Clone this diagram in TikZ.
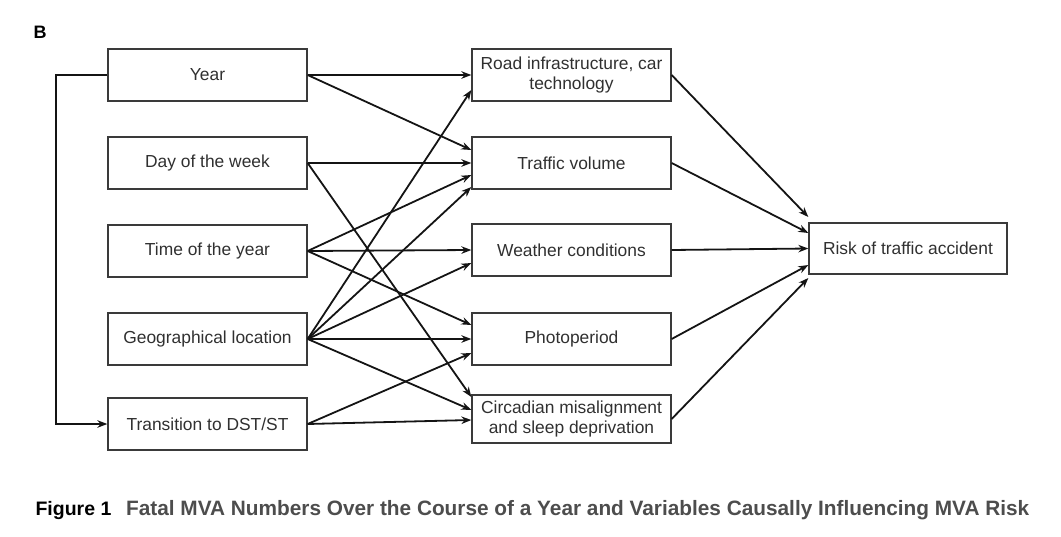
\documentclass[tikz,border=0pt]{standalone}
\usepackage{fontspec}
\setmainfont{Liberation Sans}
\usepackage{xcolor}
\definecolor{ink}{HTML}{141414}
\definecolor{ink2}{HTML}{3A3A3A}
\definecolor{txt}{HTML}{303030}
\definecolor{capgray}{HTML}{4D4D4D}
\usetikzlibrary{positioning, arrows.meta}

\begin{document}
\begin{tikzpicture}[x=1pt, y=1pt, node distance=34.7pt and 163.7pt,
   every node/.style={font=\fontsize{17.4}{20.5}\selectfont, text=txt},
   box/.style={draw=ink2, line width=1.3pt, align=center, minimum width=199pt, minimum height=52pt, inner sep=2pt},
   arr/.style={-{Stealth[length=10pt, width=7.5pt]}, line width=1.8pt, color=ink}]
  \useasboundingbox (0,0) rectangle (1061,-536);
  \node[font=\fontsize{18}{20}\selectfont\bfseries, text=black] (lbl) at (40,-32) {B};
  % causes
  \node[box] (year) at (207.5,-75) {Year};
  \node[box, below=of year] (day) {Day of the week};
  \node[box, below=of day] (toy) {Time of the year};
  \node[box, below=of toy] (geo) {Geographical location};
  \node[box, below=31.7pt of geo] (dst) {Transition to DST/ST};
  % mediators
  \node[box, right=of year] (road) {Road infrastructure, car\\ technology};
  \node[box, right=of day] (traffic) {Traffic volume};
  \node[box, right=of toy, yshift=1pt] (weather) {Weather conditions};
  \node[box, right=of geo] (photo) {Photoperiod};
  \node[box, minimum height=48pt, right=of dst, yshift=5pt] (circ) {Circadian misalignment\\ and sleep deprivation};
  % outcome
  \node[box, minimum width=198pt, minimum height=51pt] (risk) at (908,-248.5) {Risk of traffic accident};
  \draw[arr] (year.west) -- ++(-51pt,0) |- (dst.west);
  \foreach \s/\t/\o in {year/road/0, year/traffic/13, day/traffic/0, day/circ/22, toy/traffic/-12, toy/weather/0, toy/photo/14,
      geo/road/-15, geo/traffic/-24, geo/weather/-13, geo/photo/0, geo/circ/9, dst/photo/-14, dst/circ/-1}
    \draw[arr] (\s.east) -- ([yshift=\o pt]\t.west);
  \foreach \s/\o in {road/31.5, traffic/15.5, weather/0, photo/-16.5, circ/-29.5}
    \draw[arr] (\s.east) -- ([yshift=\o pt]risk.west);
  \node[anchor=base west, font=\fontsize{20.8}{22}\selectfont\bfseries, text=capgray] (cap) at (32,-515)
    {\textcolor{black}{\fontsize{19.5}{22}\selectfont Figure 1}\hspace{9pt} Fatal MVA Numbers Over the Course of a Year and Variables Causally Influencing MVA Risk};
\end{tikzpicture}
\end{document}
